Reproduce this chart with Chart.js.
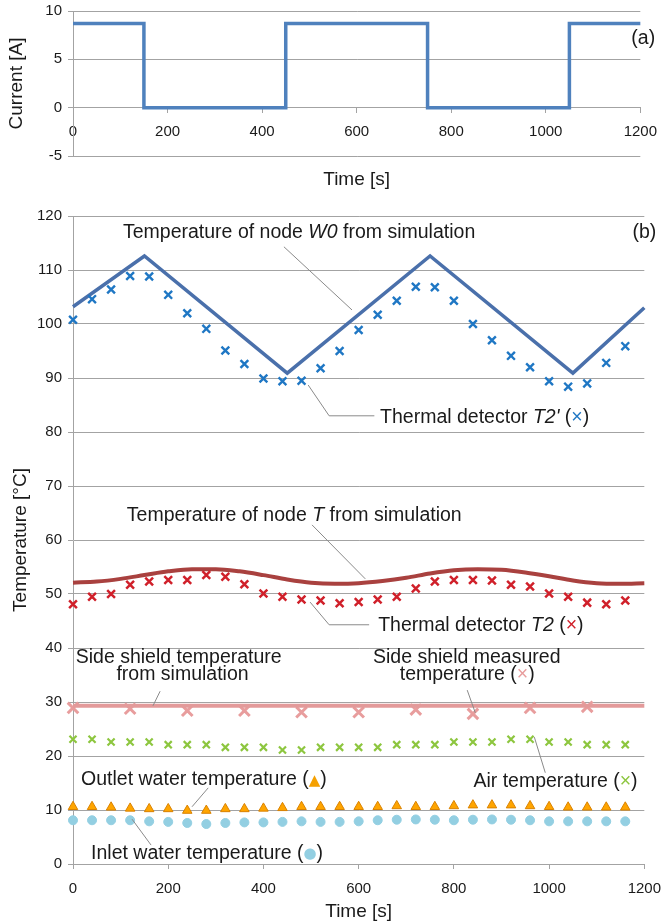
<!DOCTYPE html>
<html>
<head>
<meta charset="utf-8">
<script src="https://cdn.jsdelivr.net/npm/chart.js@4.4.1/dist/chart.umd.min.js"></script>
<style>
  html, body { margin: 0; padding: 0; background: #fff; overflow: hidden; }
  #wrap { position: relative; width: 662px; height: 921px; overflow: hidden; }
  canvas { position: absolute; left: 0; }
  #chartA { top: -4px; }
  #chartB { top: 196px; }
</style>
</head>
<body>
<div id="wrap">
  <canvas id="chartA" width="667" height="200"></canvas>
  <canvas id="chartB" width="672" height="725"></canvas>
</div>
<script>
// datos del panel (a): corriente
const currentTimes = [0, 150, 450, 750, 1050, 1200];
const currentValues = [8.7, 0, 8.7, 0, 8.7, 8.7];

// datos del panel (b): medidas cada 40 s
const measTimes = [0, 40, 80, 120, 160, 200, 240, 280, 320, 360, 400, 440, 480, 520, 560,
                   600, 640, 680, 720, 760, 800, 840, 880, 920, 960, 1000, 1040, 1080, 1120, 1160];
const t2pMeas = [100.8, 104.6, 106.4, 108.9, 108.8, 105.4, 102.0, 99.1, 95.1, 92.6, 89.9, 89.4, 89.5, 91.8, 95.0,
                 98.9, 101.7, 104.3, 106.9, 106.8, 104.3, 100.0, 97.0, 94.1, 92.0, 89.4, 88.4, 89.0, 92.8, 95.9];
const t2Meas = [48.1, 49.5, 50.0, 51.7, 52.3, 52.6, 52.6, 53.5, 53.2, 51.8, 50.1, 49.5, 49.0, 48.8, 48.3,
                48.5, 49.0, 49.5, 51.0, 52.3, 52.6, 52.6, 52.5, 51.7, 51.4, 50.1, 49.5, 48.4, 48.1, 48.8];
const airMeas = [23.1, 23.1, 22.6, 22.6, 22.6, 22.1, 22.1, 22.1, 21.6, 21.6, 21.6, 21.1, 21.1, 21.6, 21.6,
                 21.6, 21.6, 22.1, 22.1, 22.1, 22.6, 22.6, 22.6, 23.1, 23.1, 22.6, 22.6, 22.1, 22.1, 22.1];
const outletMeas = [10.6, 10.6, 10.5, 10.3, 10.2, 10.2, 9.9, 9.9, 10.2, 10.2, 10.3, 10.4, 10.6, 10.6, 10.6,
                    10.6, 10.6, 10.75, 10.6, 10.6, 10.75, 10.9, 10.9, 10.9, 10.75, 10.6, 10.5, 10.5, 10.5, 10.5];
const inletMeas = [8.1, 8.1, 8.1, 8.1, 7.9, 7.8, 7.6, 7.4, 7.6, 7.7, 7.7, 7.8, 7.9, 7.8, 7.8,
                   7.9, 8.1, 8.2, 8.25, 8.2, 8.1, 8.2, 8.25, 8.2, 8.1, 7.9, 7.9, 7.9, 7.9, 7.9];

const shieldTimes = [0, 120, 240, 360, 480, 600, 720, 840, 960, 1080];
const shieldMeas = [28.9, 28.75, 28.4, 28.4, 28.1, 28.1, 28.6, 27.8, 28.9, 29.1];

// simulacion
const w0Times = [0, 150, 450, 750, 1050, 1200];
const w0Sim = [103.2, 112.6, 90.9, 112.6, 90.9, 103.0];
const tSimTimes = [0, 50, 100, 150, 200, 250, 300, 350, 400, 450, 500, 550, 600,
                   650, 700, 750, 800, 850, 900, 950, 1000, 1050, 1100, 1150, 1200];
const tSim = [52.1, 52.3, 52.8, 53.5, 54.2, 54.6, 54.6, 54.2, 53.5, 52.7, 52.1, 51.9, 52.0,
              52.4, 53.0, 53.8, 54.4, 54.6, 54.5, 54.0, 53.3, 52.5, 52.0, 51.9, 52.0];
const shieldSimTimes = [0, 1200];
const shieldSim = [29.3, 29.3];

const FONT = '"Liberation Sans", Arial, sans-serif';
const GRID = '#a3a3a3';
const TEXT = '#1a1a1a';
const NOTE_SIZE = 19.5;

function pts(xs, ys) {
  return xs.map((t, i) => ({x: t, y: ys[i]}));
}

// texto con partes en cursiva o con simbolo de color
function drawRich(ctx, parts, X, Y, align) {
  const fontOf = p => {
    if (p[1] === 'i') return 'italic ' + NOTE_SIZE + 'px ' + FONT;
    if (p[1] && (p[0] === '▲' || p[0] === '●')) return '15px "DejaVu Sans", ' + FONT;
    return NOTE_SIZE + 'px ' + FONT;
  };
  let w = 0;
  parts.forEach(p => { ctx.font = fontOf(p); w += ctx.measureText(p[0]).width; });
  let cx = align === 'center' ? X - w / 2 : X;
  ctx.textBaseline = 'middle';
  ctx.textAlign = 'left';
  parts.forEach(p => {
    ctx.font = fontOf(p);
    ctx.fillStyle = (p[1] && p[1] !== 'i') ? p[1] : TEXT;
    ctx.fillText(p[0], cx, Y + (p[0] === '▲' || p[0] === '●' ? 1 : 0));
    cx += ctx.measureText(p[0]).width;
  });
}

const notePlugin = {
  id: 'notes',
  afterDatasetsDraw(chart, args, opts) {
    const {ctx, scales: {x, y}} = chart;
    ctx.save();
    (opts.leaders || []).forEach(line => {
      ctx.beginPath();
      line.forEach((p, i) => {
        const X = x.getPixelForValue(p[0]), Y = y.getPixelForValue(p[1]);
        if (i) ctx.lineTo(X, Y); else ctx.moveTo(X, Y);
      });
      ctx.strokeStyle = '#8a8a8a';
      ctx.lineWidth = 1;
      ctx.stroke();
    });
    (opts.labels || []).forEach(lb => {
      drawRich(ctx, lb.parts, x.getPixelForValue(lb.x), y.getPixelForValue(lb.y), lb.align);
    });
    ctx.restore();
  }
};

const plainTick = v => String(v);

// ---------- panel (a) ----------
new Chart(document.getElementById('chartA'), {
  type: 'scatter',
  data: {
    datasets: [{
      data: pts(currentTimes, currentValues),
      showLine: true,
      stepped: 'before',
      borderColor: '#4f81bd',
      borderWidth: 3.5,
      pointRadius: 0,
      clip: false
    }]
  },
  options: {
    responsive: false,
    animation: false,
    devicePixelRatio: 1,
    layout: { padding: { top: 10, right: 23, bottom: 0, left: 0 } },
    plugins: {
      legend: { display: false },
      tooltip: { enabled: false },
      title: {
        display: true,
        position: 'bottom',
        fullSize: false,
        text: 'Time [s]',
        color: TEXT,
        font: { family: FONT, size: 19, weight: 'normal', lineHeight: 1.2 },
        padding: { top: 12.6, bottom: 4.6 }
      },
      notes: {
        labels: [{ x: 1181, y: 7.1, parts: [['(a)']] }]
      }
    },
    scales: {
      x: {
        type: 'linear',
        position: { y: 0 },
        min: 0, max: 1200,
        ticks: { stepSize: 200, color: TEXT, padding: 10, font: { family: FONT, size: 15 }, maxRotation: 0, callback: plainTick },
        grid: { drawOnChartArea: false, drawTicks: true, tickLength: 5, color: GRID },
        border: { display: true, color: GRID }
      },
      y: {
        min: -5, max: 10,
        afterFit(s) { s.width = 73; },
        ticks: { stepSize: 5, color: TEXT, padding: 6, font: { family: FONT, size: 15 } },
        grid: { color: GRID, tickLength: 5 },
        border: { display: true, color: GRID },
        title: {
          display: true, text: 'Current [A]', color: TEXT,
          font: { family: FONT, size: 19, lineHeight: 1.2 },
          padding: { top: 5.6, bottom: 0 }
        }
      }
    }
  },
  plugins: [notePlugin]
});

// ---------- panel (b) ----------
const crossSet = (data, color, r, w) => ({
  data: data, showLine: false, pointStyle: 'crossRot',
  pointRadius: r, pointBorderColor: color, pointBorderWidth: w,
  borderColor: color, clip: false
});

new Chart(document.getElementById('chartB'), {
  type: 'scatter',
  data: {
    datasets: [
      crossSet(pts(measTimes, t2pMeas), '#1f77c4', 5.5, 2.4),
      {
        data: pts(w0Times, w0Sim), showLine: true, borderColor: '#4a70ab',
        borderWidth: 3.5, pointRadius: 0, tension: 0, clip: false
      },
      crossSet(pts(measTimes, t2Meas), '#d0202a', 5.5, 2.5),
      {
        data: pts(tSimTimes, tSim), showLine: true, borderColor: '#a9413f',
        borderWidth: 4, pointRadius: 0, cubicInterpolationMode: 'monotone', clip: false
      },
      {
        data: pts(shieldSimTimes, shieldSim), showLine: true, borderColor: '#e39a9a',
        borderWidth: 4, pointRadius: 0, clip: false
      },
      crossSet(pts(shieldTimes, shieldMeas), '#e89d9d', 7.5, 3),
      crossSet(pts(measTimes, airMeas), '#8dc63f', 5, 2.2),
      {
        data: pts(measTimes, outletMeas), showLine: false, pointStyle: 'triangle',
        pointRadius: 5.5, pointBackgroundColor: '#ffa500', pointBorderColor: '#d98200',
        pointBorderWidth: 1, clip: false
      },
      {
        data: pts(measTimes, inletMeas), showLine: false, pointStyle: 'circle',
        pointRadius: 4.5, pointBackgroundColor: '#93cfe2', pointBorderColor: '#93cfe2',
        pointBorderWidth: 1, clip: false
      }
    ]
  },
  options: {
    responsive: false,
    animation: false,
    devicePixelRatio: 1,
    layout: { padding: { top: 20, right: 18, bottom: 0, left: 0 } },
    plugins: {
      legend: { display: false },
      tooltip: { enabled: false },
      notes: {
        leaders: [
          [[443, 114.3], [586, 102.6]],
          [[494, 88.7], [538, 83.0], [633, 83.0]],
          [[502, 62.8], [614, 52.8]],
          [[498, 48.5], [538, 44.3], [622, 44.3]],
          [[183, 32.0], [168, 29.3]],
          [[828, 32.2], [845, 28.0]],
          [[969, 23.5], [992, 16.9]],
          [[284, 14.1], [250, 10.6]],
          [[124, 8.3], [164, 3.5]]
        ],
        labels: [
          { x: 105, y: 117, parts: [['Temperature of node '], ['W0', 'i'], [' from simulation']] },
          { x: 1175, y: 117, parts: [['(b)']] },
          { x: 645, y: 82.6, parts: [['Thermal detector '], ["T2'", 'i'], [' ('], ['×', '#1f77c4'], [')']] },
          { x: 113, y: 64.6, parts: [['Temperature of node '], ['T', 'i'], [' from simulation']] },
          { x: 641, y: 44.1, parts: [['Thermal detector '], ['T2', 'i'], [' ('], ['×', '#d0202a'], [')']] },
          { x: 222, y: 38.3, align: 'center', parts: [['Side shield temperature']] },
          { x: 230, y: 35.0, align: 'center', parts: [['from simulation']] },
          { x: 827, y: 38.3, align: 'center', parts: [['Side shield measured']] },
          { x: 828, y: 35.0, align: 'center', parts: [['temperature ('], ['×', '#e89d9d'], [')']] },
          { x: 841, y: 15.2, parts: [['Air temperature ('], ['×', '#8dc63f'], [')']] },
          { x: 17, y: 15.6, parts: [['Outlet water temperature ('], ['▲', '#f5a000'], [')']] },
          { x: 38, y: 2.0, parts: [['Inlet water temperature ('], ['●', '#93cfe2'], [')']] }
        ]
      }
    },
    scales: {
      x: {
        type: 'linear',
        position: 'bottom',
        min: 0, max: 1200,
        afterFit(s) { s.height = 57; },
        ticks: { stepSize: 200, color: TEXT, padding: 11, font: { family: FONT, size: 15 }, maxRotation: 0, callback: plainTick },
        grid: { drawOnChartArea: false, drawTicks: true, tickLength: 5, color: GRID },
        border: { display: true, color: GRID },
        title: {
          display: true, text: 'Time [s]', color: TEXT,
          font: { family: FONT, size: 19, lineHeight: 1.0 },
          padding: { top: 0, bottom: 0 }
        }
      },
      y: {
        min: 0, max: 120,
        afterFit(s) { s.width = 73; },
        ticks: { stepSize: 10, color: TEXT, padding: 6, font: { family: FONT, size: 15 } },
        grid: { color: GRID, tickLength: 5 },
        border: { display: true, color: GRID },
        title: {
          display: true, text: 'Temperature [°C]', color: TEXT,
          font: { family: FONT, size: 19, lineHeight: 1.2 },
          padding: { top: 9.6, bottom: 0 }
        }
      }
    }
  },
  plugins: [notePlugin]
});
</script>
</body>
</html>
